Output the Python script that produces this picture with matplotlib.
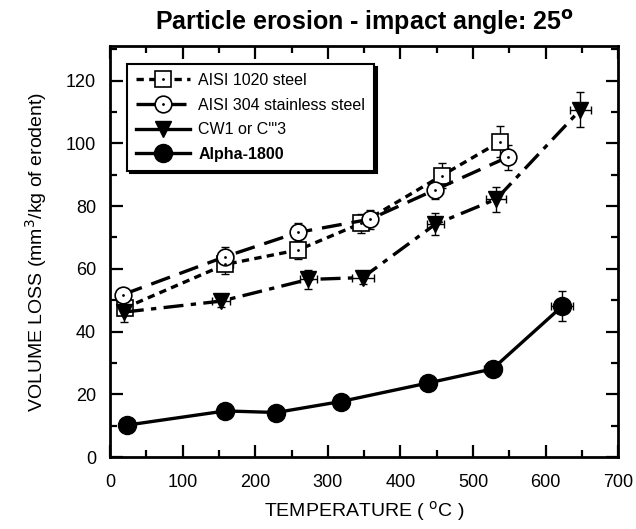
import matplotlib
matplotlib.use("Agg")
import matplotlib.pyplot as plt
from matplotlib.ticker import MultipleLocator
from matplotlib.lines import Line2D

plt.rcParams['font.family'] = ['Liberation Sans', 'DejaVu Sans']

# AISI 1020 steel (open squares)
x_1020 = [20, 159, 259, 346, 457, 537]
y_1020 = [47.5, 61.4, 66.0, 74.5, 89.7, 100.5]
xe_1020 = [8, 10, 10, 10, 10, 10]
ye_1020 = [2, 3, 3, 3, 4, 5]

# AISI 304 stainless steel (open circles)
x_304 = [18, 159, 259, 358, 448, 548]
y_304 = [51.8, 63.9, 71.6, 75.8, 85.2, 95.6]
xe_304 = [8, 10, 10, 10, 10, 10]
ye_304 = [2, 3, 3, 3, 3, 4]

# CW1 or C''3 (filled triangles)
x_cw = [19, 153, 273, 348, 448, 532, 648]
y_cw = [46.2, 49.7, 56.6, 57.2, 74.2, 82.2, 110.7]
xe_cw = [8, 12, 12, 15, 12, 14, 15]
ye_cw = [3, 2, 3, 2, 3.5, 4, 5.5]

# Alpha-1800 (filled circles)
x_al = [24, 159, 229, 318, 438, 527, 623]
y_al = [10.2, 14.7, 14.2, 17.7, 23.6, 28.1, 48.1]
xe_al = [8, 10, 8, 10, 10, 12, 15]
ye_al = [1, 1, 1, 1, 1, 1.5, 4.8]

labels = ["AISI 1020 steel", "AISI 304 stainless steel", "CW1 or C'''3", "Alpha-1800"]

fig = plt.figure(figsize=(6.36, 5.29), dpi=100)
ax = fig.add_axes([0.173, 0.136, 0.799, 0.777])

lw = 2.4
eb_kw = dict(fmt='none', ecolor='black', elinewidth=1.0, capsize=3, capthick=1.0, zorder=2)
ax.errorbar(x_1020, y_1020, xerr=xe_1020, yerr=ye_1020, **eb_kw)
ax.errorbar(x_304, y_304, xerr=xe_304, yerr=ye_304, **eb_kw)
ax.errorbar(x_cw, y_cw, xerr=xe_cw, yerr=ye_cw, **eb_kw)
ax.errorbar(x_al, y_al, xerr=xe_al, yerr=ye_al, **eb_kw)

h1, = ax.plot(x_1020, y_1020, color='black', lw=lw, ls=(0, (2.2, 1.6)),
              marker='s', ms=11, mfc='white', mec='black', mew=1.2, zorder=3)
d1, = ax.plot(x_1020, y_1020, ls='none', marker='.', ms=2, color='black', zorder=4)
h2, = ax.plot(x_304, y_304, color='black', lw=lw, ls=(0, (6, 3)),
              marker='o', ms=12, mfc='white', mec='black', mew=1.2, zorder=3)
d2, = ax.plot(x_304, y_304, ls='none', marker='.', ms=2, color='black', zorder=4)
h3, = ax.plot(x_cw, y_cw, color='black', lw=lw, ls=(0, (6, 2.2, 1.6, 2.2)),
              marker='v', ms=12, mfc='black', mec='black', zorder=3)
h4, = ax.plot(x_al, y_al, color='black', lw=lw, ls='-',
              marker='o', ms=13, mfc='black', mec='black', zorder=3)

# legend proxy for the CW1 entry (drawn solid in the legend)
p3 = Line2D([], [], color='black', lw=lw, ls='-', marker='v', ms=12,
            mfc='black', mec='black')

ax.set_xlim(0, 700)
ax.set_ylim(0, 131)
ax.xaxis.set_major_locator(MultipleLocator(100))
ax.xaxis.set_minor_locator(MultipleLocator(50))
ax.yaxis.set_major_locator(MultipleLocator(20))
ax.yaxis.set_minor_locator(MultipleLocator(10))
ax.tick_params(which='both', direction='in', top=True, right=True, width=1.6)
ax.tick_params(which='major', length=9, labelsize=13)
ax.tick_params(axis='x', which='major', pad=12)
ax.tick_params(axis='y', which='major', pad=10)
ax.tick_params(which='minor', length=5)
for s in ax.spines.values():
    s.set_linewidth(2)

ax.set_xlabel("TEMPERATURE ( $^{\\mathrm{o}}$C )", fontsize=14, labelpad=6)
ax.set_ylabel("VOLUME LOSS (mm$^{3}$/kg of erodent)", fontsize=14, labelpad=12)
ax.set_title("Particle erosion - impact angle: 25$^{\\mathbf{o}}$", fontsize=18,
             fontweight='bold', pad=12)

leg = ax.legend([(h1, d1), (h2, d2), p3, h4], labels, loc='upper left',
                bbox_to_anchor=(0.018, 0.975), fontsize=11.5, frameon=True,
                fancybox=False, shadow={'color': 'black', 'alpha': 1.0},
                handlelength=3.4, handletextpad=0.5, borderpad=0.55,
                labelspacing=0.6)
leg.get_frame().set_edgecolor('black')
leg.get_frame().set_linewidth(1.5)
leg.get_texts()[3].set_fontweight('bold')

fig.savefig("out.png", dpi=100)
